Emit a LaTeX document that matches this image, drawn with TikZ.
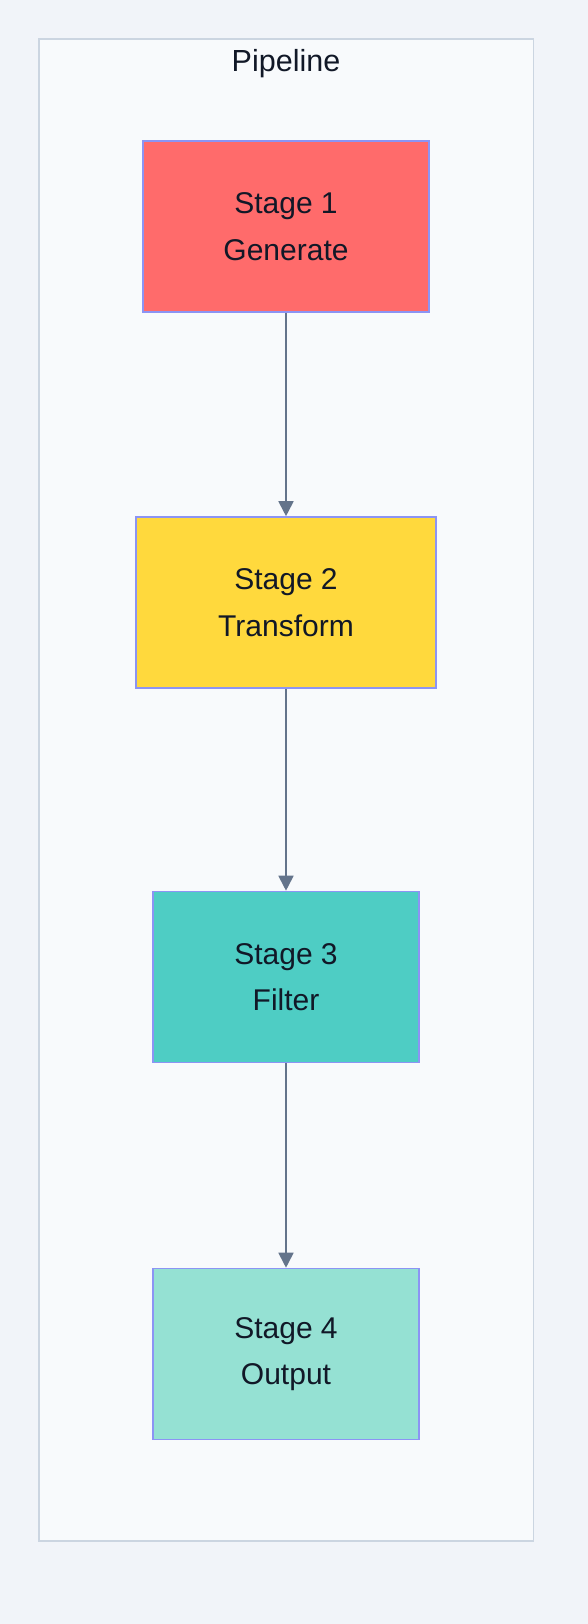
\documentclass[tikz,border=0pt]{standalone}
\usepackage{fontspec}
\setmainfont{Liberation Sans}
\usetikzlibrary{arrows.meta}
\definecolor{bgc}{HTML}{F1F4F9}
\definecolor{clfill}{HTML}{F8FAFC}
\definecolor{clborder}{HTML}{CBD5E1}
\definecolor{boxborder}{HTML}{8C94F4}
\definecolor{txt}{HTML}{111827}
\definecolor{arrowc}{HTML}{64748B}
\definecolor{cA}{HTML}{FF6B6B}
\definecolor{cB}{HTML}{FFD93D}
\definecolor{cC}{HTML}{4ECDC4}
\definecolor{cD}{HTML}{95E1D3}
\tikzset{
  stagebox/.style={draw=boxborder, line width=1.6pt, minimum height=171pt, inner sep=0pt,
    align=center, text=txt, font=\fontsize{30}{46.5}\selectfont},
  flow/.style={draw=arrowc, line width=1.8pt, -{Triangle[length=15pt,width=15pt]}}
}
\begin{document}
\begin{tikzpicture}[x=1pt,y=-1pt]
\fill[bgc] (0,0) rectangle (588,1624);
\useasboundingbox (0,0) rectangle (588,1624);
\draw[clborder, fill=clfill, line width=1.6pt] (39,39) rectangle (533.5,1541);
\node[text=txt, font=\fontsize{30.5}{36}\selectfont] (title) at (286,63.5) {Pipeline};
\node[stagebox, fill=cA, minimum width=286.5pt] (s1) at (286,226.5) {Stage 1\\Generate};
\node[stagebox, fill=cB, minimum width=300pt] (s2) at (286,602.5) {Stage 2\\Transform};
\node[stagebox, fill=cC, minimum width=265.5pt] (s3) at (286,977) {Stage 3\\Filter};
\node[stagebox, fill=cD, minimum width=266pt] (s4) at (286,1354) {Stage 4\\Output};
\draw[flow] (s1) -- (s2);
\draw[flow] (s2) -- (s3);
\draw[flow] (s3) -- (s4);
\end{tikzpicture}
\end{document}
